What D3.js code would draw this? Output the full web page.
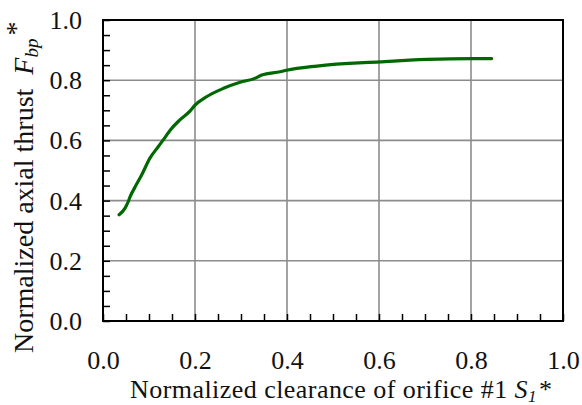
<!DOCTYPE html>
<html>
<head>
<meta charset="utf-8">
<script src="https://cdn.jsdelivr.net/npm/d3@7"></script>
<style>
  body { margin: 0; background: #fff; }
  svg text { font-family: "Liberation Serif", "DejaVu Serif", serif; fill: #111; }
</style>
</head>
<body>
<svg></svg>
<script>
// normalized clearance S1* and normalized axial thrust Fbp*
var s1  = [0.035, 0.048, 0.055, 0.059, 0.070, 0.084, 0.102, 0.120, 0.135, 0.146, 0.167, 0.189,
           0.200, 0.225, 0.262, 0.298, 0.330, 0.345, 0.385, 0.399, 0.465, 0.602, 0.704, 0.801, 0.845];
var fbp = [0.353, 0.375, 0.397, 0.413, 0.446, 0.485, 0.541, 0.579, 0.610, 0.634, 0.668, 0.697,
           0.717, 0.745, 0.773, 0.793, 0.806, 0.817, 0.828, 0.833, 0.847, 0.861, 0.869, 0.872, 0.872];
var majorTicks = [0, 0.2, 0.4, 0.6, 0.8, 1.0];
var minorTicks = d3.range(0, 1.0001, 0.05);

var serif = '"Liberation Serif", "DejaVu Serif", serif';
var svgWidth = 582, svgHeight = 405;
var margin = {left: 103, right: 19, top: 20, bottom: 84};
var w = svgWidth - margin.left - margin.right,
    h = svgHeight - margin.top - margin.bottom;

var svg = d3.select("svg")
            .attr("width", svgWidth)
            .attr("height", svgHeight);

var g = svg.append("g")
           .attr("transform", "translate(" + margin.left + "," + margin.top + ")");

var x = d3.scaleLinear().domain([0, 1]).range([0, w]);
var y = d3.scaleLinear().domain([0, 1]).range([h, 0]);

// grid
g.append("g").selectAll("line")
 .data(majorTicks.slice(1, -1))
 .enter().append("line")
 .attr("x1", function(d) {return x(d);}).attr("x2", function(d) {return x(d);})
 .attr("y1", 0).attr("y2", h)
 .attr("stroke", "#8c8c8c").attr("stroke-width", 1.6);
g.append("g").selectAll("line")
 .data(majorTicks.slice(1, -1))
 .enter().append("line")
 .attr("y1", function(d) {return y(d);}).attr("y2", function(d) {return y(d);})
 .attr("x1", 0).attr("x2", w)
 .attr("stroke", "#8c8c8c").attr("stroke-width", 1.6);

// minor ticks (inside)
var xMinor = g.append("g")
  .attr("transform", "translate(0," + h + ")")
  .call(d3.axisBottom(x).tickValues(minorTicks).tickSize(-7).tickFormat(""));
var yMinor = g.append("g")
  .call(d3.axisLeft(y).tickValues(minorTicks).tickSize(-7).tickFormat(""));
[xMinor, yMinor].forEach(function(a) {
  a.select(".domain").remove();
  a.selectAll("line").attr("stroke", "#000").attr("stroke-width", 1.5);
});

// tick labels
var xAxis = g.append("g")
  .attr("transform", "translate(0," + h + ")")
  .call(d3.axisBottom(x).tickValues(majorTicks).tickSize(0).tickPadding(0)
          .tickFormat(d3.format(".1f")));
xAxis.select(".domain").remove();
xAxis.attr("font-family", serif).attr("font-size", 26);
xAxis.selectAll("text")
  .attr("dy", null).attr("y", 48).attr("fill", "#111");

var yAxis = g.append("g")
  .call(d3.axisLeft(y).tickValues(majorTicks).tickSize(0).tickPadding(0)
          .tickFormat(d3.format(".1f")));
yAxis.select(".domain").remove();
yAxis.attr("font-family", serif).attr("font-size", 26);
yAxis.selectAll("text")
  .attr("x", -21).attr("dy", "0.33em").attr("fill", "#111");

// frame
g.append("rect")
 .attr("x", 0).attr("y", 0).attr("width", w).attr("height", h)
 .attr("fill", "none").attr("stroke", "#000").attr("stroke-width", 2);

// curve
var line = d3.line()
  .x(function(d, i) {return x(s1[i]);})
  .y(function(d, i) {return y(fbp[i]);})
  .curve(d3.curveMonotoneX);

g.append("path")
 .datum(s1)
 .attr("d", line)
 .attr("fill", "none")
 .attr("stroke", "#006800")
 .attr("stroke-width", 3.2)
 .attr("stroke-linecap", "round");

// axis titles
var xt = svg.append("text")
  .attr("x", 130).attr("y", 398)
  .attr("font-family", serif)
  .style("font-size", "26px")
  .style("letter-spacing", "0.45px");
xt.append("tspan").text("Normalized clearance of orifice #1 ");
xt.append("tspan").style("font-style", "italic").text("S");
xt.append("tspan").style("font-style", "italic").style("font-size", "17px").attr("dy", 4).text("1");
xt.append("tspan").attr("dy", -4).attr("dx", 2).text("*");

var yt = svg.append("text")
  .attr("transform", "translate(33,353) rotate(-90)")
  .attr("xml:space", "preserve")
  .attr("font-family", serif)
  .style("font-size", "28px");
yt.append("tspan").text("Normalized axial thrust  ");
yt.append("tspan").style("font-style", "italic").text("F");
yt.append("tspan").style("font-style", "italic").style("font-size", "19px").attr("dy", 5).text("bp");
yt.append("tspan").attr("dy", -13).attr("dx", 3).text("*");
</script>
</body>
</html>
